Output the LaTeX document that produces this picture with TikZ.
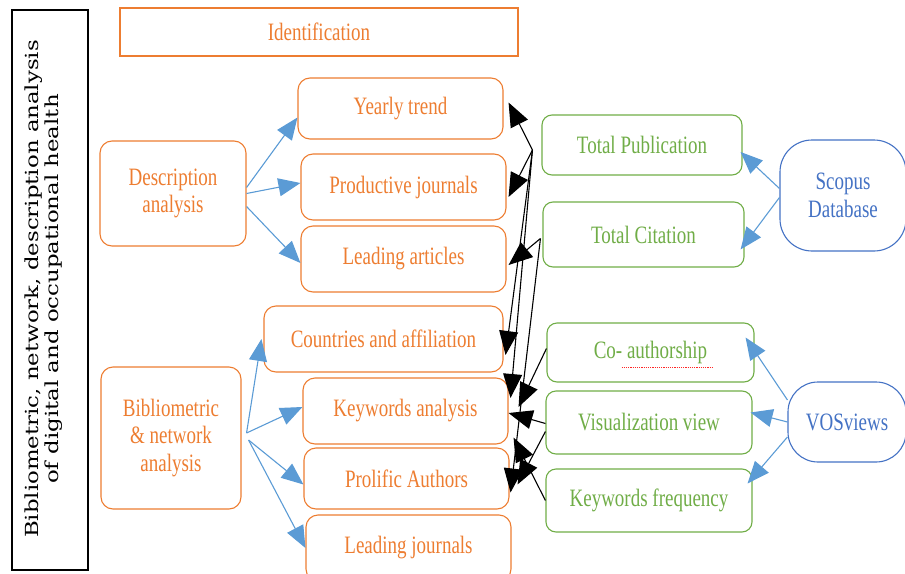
\documentclass[tikz,border=0pt]{standalone}
\usepackage{fontspec}
\setmainfont{Liberation Serif}
\newfontfamily\boxfont[FakeStretch=0.76]{Liberation Serif}
\newfontfamily\sidefont[FakeStretch=1.27]{DejaVu Serif}
\usetikzlibrary{arrows.meta}
\definecolor{orangebox}{HTML}{ED7D31}
\definecolor{greenbox}{HTML}{70AD47}
\definecolor{bluebox}{HTML}{4472C4}
\definecolor{bluearrow}{HTML}{5B9BD5}

\begin{document}
\begin{tikzpicture}[
                x=1pt,y=-1pt,
                line width=1.1pt,
                every node/.style={font=\boxfont\fontsize{25}{27.5}\selectfont,inner sep=0pt,align=center},
                obox/.style={draw=orangebox,text=orangebox,rounded corners=12pt},
                gbox/.style={draw=greenbox,text=greenbox,rounded corners=10pt},
                bbox/.style={draw=bluebox,text=bluebox,rounded corners=32pt},
                bluearr/.style={draw=bluearrow,-{Triangle[length=22pt,width=18pt]}},
                blackarr/.style={draw=black,-{Triangle[length=24pt,width=19pt]}}] %

\clip (0,0) rectangle (905,573);

% title
\node[draw=black,minimum width=76pt,minimum height=560pt] (TITLE) at (50,290) {};
\node[rotate=90,font=\sidefont\fontsize{18}{20}\selectfont] (TITLETXT) at (44,289)
      {Bibliometric, network, description analysis\\of digital and occupational health};

                    \node[draw=orangebox,text=orangebox,minimum width=398pt,minimum height=48pt] (ID) at (319,32) {Identification};

                    % description
                    \node[obox,minimum width=146pt,minimum height=105pt] (DA) at (173,193.5) {Description\\analysis}; % 1

                    \node[obox,minimum width=205pt,minimum height=61pt] (YT) at (400.5,108.5) {Yearly trend}; % 1
                    \node[obox,minimum width=205pt,minimum height=66pt] (PJ) at (403.5,187) {Productive journals}; % 1
                    \node[obox,minimum width=205pt,minimum height=66pt] (LA) at (403.5,259) {Leading articles}; % 1

                    % bibliometric
                    \node[obox,minimum width=140pt,minimum height=142pt] (BNA) at (171,438) {Bibliometric\\\& network\\analysis}; % 2

                    \node[obox,minimum width=239pt,minimum height=66pt] (CA) at (383.5,339) {Countries and affiliation}; % 2
                    \node[obox,minimum width=205pt,minimum height=66pt] (KA) at (405.5,411) {Keywords analysis}; % 2
                    \node[obox,minimum width=205pt,minimum height=61pt] (PA) at (406.5,478.5) {Prolific Authors}; % 2
                    \node[obox,minimum width=205pt,minimum height=66pt] (LJ) at (408.5,548) {Leading journals}; % 2

                    % scopus
                    \node[gbox,minimum width=200pt,minimum height=60pt] (TP) at (642,145) {Total Publication};
                    \node[gbox,minimum width=201pt,minimum height=65pt] (TC) at (643.5,234.5) {Total Citation};
                    \node[bbox,minimum width=126pt,minimum height=111pt] (SD) at (843,195.5) {Scopus\\Database};

                    % vosviewer
                    \node[gbox,minimum width=207pt,minimum height=59pt] (CO) at (650.5,352.5) {Co- authorship};
                    \node[gbox,minimum width=206pt,minimum height=63pt] (VV) at (649,422.5) {Visualization view};
                    \node[gbox,minimum width=206pt,minimum height=63pt] (KF) at (649,500.5) {Keywords frequency};
                    \node[bbox,rounded corners=30pt,minimum width=118pt,minimum height=80pt] (VOS) at (847,422) {VOSviews};

                    \draw[red!85,densely dotted,line width=1.2pt] ([xshift=-29pt,yshift=-15pt]CO.center) -- ([xshift=63pt,yshift=-15pt]CO.center);

                    \coordinate (tpx) at ([xshift=-9pt,yshift=-5pt]TP.west);
                    \coordinate (tcx) at ([xshift=-2pt,yshift=-4pt]TC.west);
                    \coordinate (bn1) at ([xshift=5pt,yshift=5pt]BNA.east);
                    \coordinate (bn2) at ([xshift=7pt,yshift=-2pt]BNA.east);

                    \draw [bluearr] ([yshift=6pt]DA.east) to ([yshift=-9pt]YT.west);
                    \draw [bluearr] (DA.east) to ([yshift=4pt]PJ.west);
                    \draw [bluearr] ([yshift=-13pt]DA.east) to ([yshift=-4pt]LA.west);

                    \draw [bluearr] (bn1) to ([xshift=-2pt]CA.west);
                    \draw [bluearr] (bn1) to ([yshift=4pt]KA.west);
                    \draw [bluearr] (bn2) to ([yshift=-6pt]PA.west);
                    \draw [bluearr] (bn2) to (LJ.west);

                    \draw [bluearr] ([yshift=7pt]SD.west) to ([xshift=-2pt,yshift=-7pt]TP.east);
                    \draw [bluearr] ([yshift=-2pt]SD.west) to ([xshift=-4pt,yshift=-15pt]TC.east);

                    \draw [bluearr] ([yshift=22pt]VOS.west) to ([xshift=-9pt,yshift=15pt]CO.east);
                    \draw [bluearr] (VOS.west) to ([xshift=-2pt,yshift=10pt]VV.east);
                    \draw [bluearr] ([yshift=-15pt]VOS.west) to ([xshift=-5pt,yshift=17pt]KF.east);

                    % black
                    \draw [blackarr] (tpx) to ([xshift=5pt,yshift=6pt]YT.east);
                    \draw [blackarr] (tpx) to ([xshift=2pt,yshift=-10pt]PJ.east);
                    \draw [blackarr] (tpx) to ([xshift=2pt,yshift=-16pt]CA.east);
                    \draw [blackarr] (tpx) to ([xshift=2pt,yshift=13pt]KA.east);
                    \draw [blackarr] (tcx) to ([xshift=2pt,yshift=-6pt]LA.east);
                    \draw [blackarr] (tcx) to ([xshift=1pt,yshift=-14pt]PA.east);
                    \draw [blackarr] ([yshift=4pt]CO.west) to ([xshift=10pt,yshift=4pt]KA.east);
                    \draw [blackarr] ([yshift=-1pt]VV.west) to ([yshift=-2pt]KA.east);
                    \draw [blackarr] ([yshift=-9pt]VV.west) to ([xshift=8pt,yshift=-6pt]PA.east);
                    \draw [blackarr] (KF.west) to ([xshift=5pt,yshift=7pt]KA.south east);

                    \end{tikzpicture}
\end{document}
